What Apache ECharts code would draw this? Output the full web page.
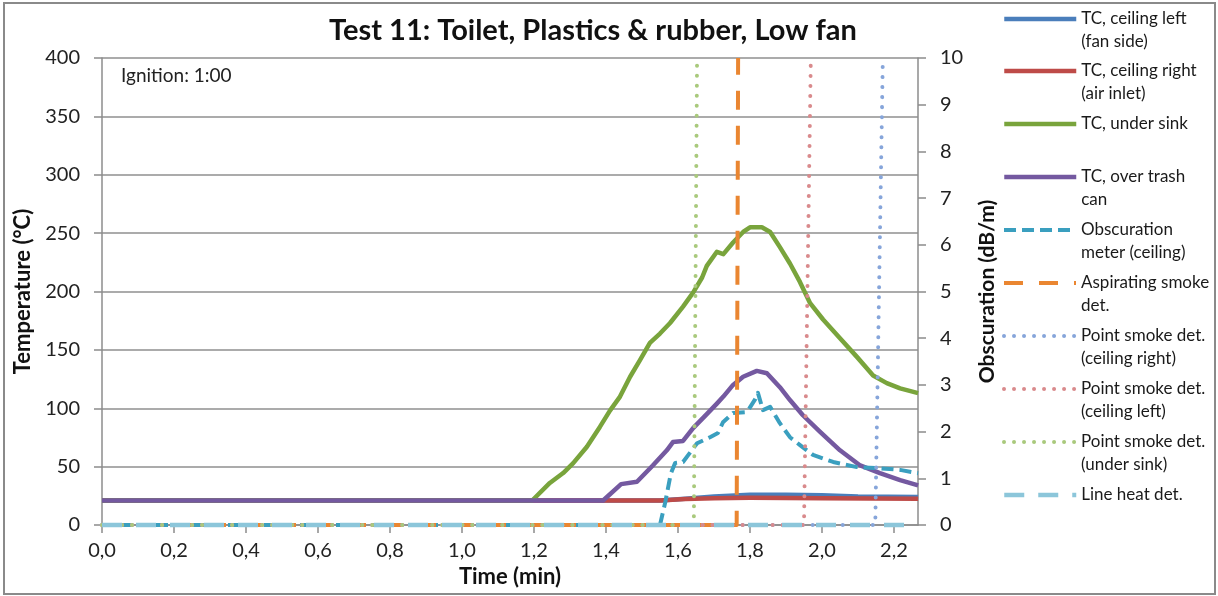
<!DOCTYPE html>
<html>
<head>
<meta charset="utf-8">
<script src="https://cdn.jsdelivr.net/npm/echarts@6/dist/echarts.min.js"></script>
<style>
  html, body { margin: 0; padding: 0; background: #fff; }
  #chart { width: 1218px; height: 596px; }
</style>
</head>
<body>
<div id="chart"></div>
<script>
// Axis ranges and tick steps
const timeMax = 2.2667;           // minutes
const timeStep = 0.2;
const tempMax = 400, tempStep = 50;   // °C
const obsMax = 10, obsStep = 1;       // dB/m

// Thermocouples, [time (min), temperature (°C)]
const tcCeilingLeft = [[0,21],[1.55,21],[1.62,22.5],[1.7,24.5],[1.8,26],[1.9,26],[2.0,25.5],[2.1,24.5],[2.267,24]];
const tcCeilingRight = [[0,21],[1.55,21],[1.62,22.3],[1.7,23],[1.8,23.3],[1.9,23.2],[2.0,23],[2.267,22.5]];
const tcUnderSink = [[0,21],[1.195,21],[1.244,36],[1.281,44.5],[1.309,53],[1.347,67],[1.383,84],[1.411,98],[1.439,110],
  [1.467,127],[1.494,141],[1.522,156],[1.55,164],[1.578,173],[1.614,187],[1.642,199],[1.667,212],[1.68,222],
  [1.708,234],[1.726,232],[1.753,242],[1.781,251],[1.8,255],[1.833,255],[1.856,251],[1.883,238],[1.911,224],
  [1.939,208],[1.967,190],[2.003,176],[2.05,160],[2.097,144],[2.142,128],[2.18,121.5],[2.217,117],[2.267,113]];
const tcOverTrash = [[0,21],[1.392,21],[1.442,35],[1.486,37],[1.53,51],[1.569,64],[1.586,71],[1.614,72],[1.642,83],
  [1.68,95],[1.708,104],[1.726,110],[1.753,120],[1.781,127],[1.819,132],[1.847,130],[1.883,118],[1.911,107],
  [1.947,94],[1.994,80],[2.05,64],[2.106,51],[2.161,44.5],[2.217,38.5],[2.267,34]];

// Obscuration meter, [time (min), dB/m]
const obscuration = [[0,0],[1.55,0],[1.565,0.5],[1.58,1.1],[1.592,1.33],[1.614,1.35],[1.653,1.75],[1.689,1.88],
  [1.711,1.97],[1.725,2.2],[1.753,2.4],[1.792,2.42],[1.815,2.7],[1.822,2.83],[1.836,2.46],[1.856,2.53],
  [1.883,2.18],[1.911,1.88],[1.939,1.71],[1.975,1.5],[2.031,1.35],[2.097,1.24],[2.153,1.22],[2.217,1.18],[2.267,1.11]];

// Detector activation traces (0 before activation, full scale at activation)
const aspiratingDet = [[0,0],[1.763,0],[1.767,10]];
const pointCeilingRight = [[0,0],[2.148,0],[2.169,10]];
const pointCeilingLeft = [[0,0],[1.95,0],[1.969,10]];
const pointUnderSink = [[0,0],[1.644,0],[1.653,10]];
const lineHeatDet = [[0,0],[2.25,0]];

const FONT = 'Lato, "Open Sans", sans-serif';
const AXIS_GRAY = '#8c8c8c';

// Series look-up: name, data, axis, colour, width, dash pattern
const seriesDefs = [
  { name: 'TC, ceiling left\n(fan side)', data: tcCeilingLeft, axis: 0, color: '#4a7ebb', width: 4.5, type: 'solid' },
  { name: 'TC, ceiling right\n(air inlet)', data: tcCeilingRight, axis: 0, color: '#be4b48', width: 4.5, type: 'solid' },
  { name: 'TC, under sink', data: tcUnderSink, axis: 0, color: '#79a43c', width: 4.5, type: 'solid' },
  { name: 'TC, over trash\ncan', data: tcOverTrash, axis: 0, color: '#7459a0', width: 4.5, type: 'solid' },
  { name: 'Obscuration\nmeter (ceiling)', data: obscuration, axis: 1, color: '#3a9fbf', width: 4, type: [12, 6] },
  { name: 'Aspirating smoke\ndet.', data: aspiratingDet, axis: 1, color: '#ea8631', width: 4, type: [19, 16] },
  { name: 'Point smoke det.\n(ceiling right)', data: pointCeilingRight, axis: 1, color: '#86a5da', width: 4, type: [0.01, 10], cap: 'round' },
  { name: 'Point smoke det.\n(ceiling left)', data: pointCeilingLeft, axis: 1, color: '#d98a8c', width: 4, type: [0.01, 10], cap: 'round' },
  { name: 'Point smoke det.\n(under sink)', data: pointUnderSink, axis: 1, color: '#a9c97c', width: 4, type: [0.01, 10], cap: 'round' },
  { name: 'Line heat det.', data: lineHeatDet, axis: 1, color: '#8cc6da', width: 4.5, type: [20, 14] }
];

// Legend rows: icon centre y positions down the right side
const legendIconY = [19, 71, 124, 177, 230, 283, 336, 389, 442, 495];
const LEGEND_LH = 23;

const series = seriesDefs.map(d => ({
  name: d.name,
  type: 'line',
  yAxisIndex: d.axis,
  data: d.data,
  symbol: 'none',
  smooth: false,
  clip: false,
  animation: false,
  lineStyle: { color: d.color, width: d.width, type: d.type, cap: d.cap || 'butt', join: 'round' },
  itemStyle: { color: d.color }
}));

const legends = seriesDefs.map((d, i) => ({
  data: [d.name],
  left: 1002,
  top: legendIconY[i] - LEGEND_LH * 1.5,
  padding: 0,
  itemWidth: 72,
  itemHeight: 14,
  selectedMode: false,
  itemStyle: { opacity: 0 },
  lineStyle: { width: d.width, type: d.type, cap: d.cap || 'butt', color: d.color },
  formatter: n => {
    const lines = n.split('\n');
    return ' \n' + lines[0] + '\n' + (lines[1] || ' ');
  },
  textStyle: { fontFamily: FONT, fontSize: 17, lineHeight: LEGEND_LH, color: '#1a1a1a' }
}));

const chart = echarts.init(document.getElementById('chart'), null, { renderer: 'canvas' });
chart.setOption({
  backgroundColor: '#fff',
  animation: false,
  title: {
    text: 'Test 11: Toilet, Plastics & rubber, Low fan',
    left: 588,
    top: 11,
    textAlign: 'center',
    textStyle: { fontFamily: FONT, fontSize: 29, fontWeight: 'bold', color: '#111' }
  },
  legend: legends,
  grid: { left: 102, right: 300, top: 58, bottom: 71, containLabel: false },
  xAxis: {
    type: 'value',
    min: 0,
    max: timeMax,
    interval: timeStep,
    name: 'Time (min)',
    nameLocation: 'middle',
    nameGap: 40,
    nameTextStyle: { fontFamily: FONT, fontSize: 22, fontWeight: 'bold', color: '#111' },
    axisLine: { show: true, lineStyle: { color: AXIS_GRAY, width: 1.5 } },
    axisTick: { show: true, length: 8, lineStyle: { color: AXIS_GRAY, width: 1.5 } },
    axisLabel: {
      fontFamily: FONT, fontSize: 20, color: '#222', margin: 16, showMaxLabel: false,
      formatter: v => {
        const k = v / timeStep;
        return Math.abs(k - Math.round(k)) < 1e-6 ? v.toFixed(1).replace('.', ',') : '';
      }
    },
    splitLine: { show: false }
  },
  yAxis: [
    {
      type: 'value',
      min: 0, max: tempMax, interval: tempStep,
      position: 'left',
      name: 'Temperature (°C)',
      nameLocation: 'middle',
      nameRotate: 90,
      nameGap: 57,
      nameTextStyle: { fontFamily: FONT, fontSize: 22, fontWeight: 'bold', color: '#111' },
      axisLine: { show: true, lineStyle: { color: AXIS_GRAY, width: 1.5 } },
      axisTick: { show: true, length: 8, lineStyle: { color: AXIS_GRAY, width: 1.5 } },
      axisLabel: { fontFamily: FONT, fontSize: 20, color: '#222', margin: 22 },
      splitLine: { show: true, lineStyle: { color: '#8f8f8f', width: 1.5 } }
    },
    {
      type: 'value',
      min: 0, max: obsMax, interval: obsStep,
      position: 'right',
      name: 'Obscuration (dB/m)',
      nameLocation: 'middle',
      nameRotate: 90,
      nameGap: 59,
      nameTextStyle: { fontFamily: FONT, fontSize: 21, fontWeight: 'bold', color: '#111' },
      axisLine: { show: true, lineStyle: { color: AXIS_GRAY, width: 1.5 } },
      axisTick: { show: true, length: 8, lineStyle: { color: AXIS_GRAY, width: 1.5 } },
      axisLabel: { fontFamily: FONT, fontSize: 20, color: '#222', margin: 22 },
      splitLine: { show: false }
    }
  ],
  graphic: [
    {
      type: 'rect',
      shape: { x: 4, y: 3, width: 1211, height: 591 },
      style: { fill: 'none', stroke: '#8a8a8a', lineWidth: 2 },
      silent: true, z: -1
    },
    {
      type: 'text',
      left: 121, top: 66,
      style: { text: 'Ignition: 1:00', fontFamily: FONT, fontSize: 19, fill: '#222' },
      silent: true
    }
  ],
  series: series
});
</script>
</body>
</html>
